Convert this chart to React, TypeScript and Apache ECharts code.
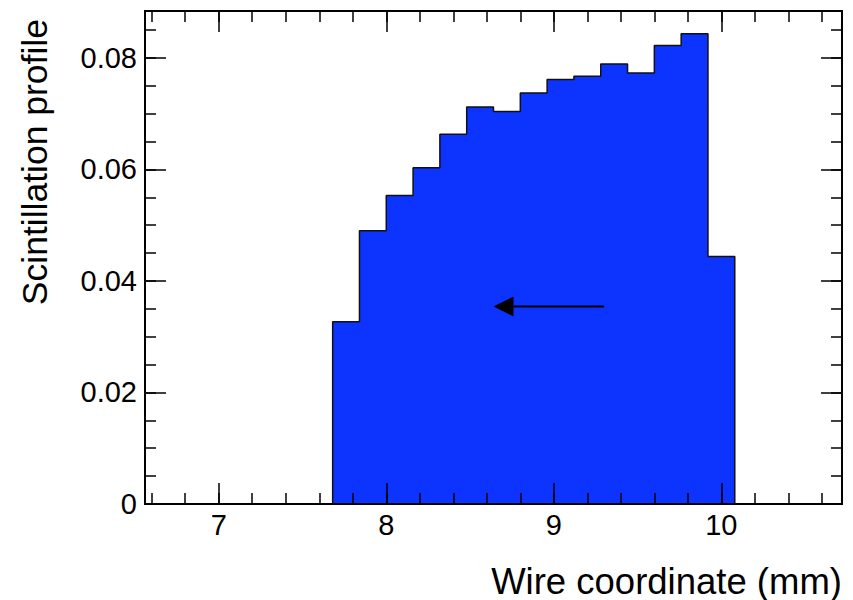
import React, { useEffect, useRef } from 'react';
import * as echarts from 'echarts';

// ---- data ----
const X_MIN = 6.56;
const X_MAX = 10.72;
const Y_MIN = 0;
const Y_MAX = 0.0884;
const BIN_START = 7.68;
const BIN_WIDTH = 0.16;
const binValues = [
  0.0327, 0.0490, 0.0553, 0.0603, 0.0663, 0.0712, 0.0704, 0.0737,
  0.0761, 0.0767, 0.0789, 0.0773, 0.0822, 0.0843, 0.0444,
];
const arrowFrom = [9.3, 0.0354];
const arrowTo = [8.64, 0.0354];
const xTitle = 'Wire coordinate (mm)';
const yTitle = 'Scintillation profile';

const FONT = "'Liberation Sans', Arial, Helvetica, sans-serif";
const BLUE = '#0d33ff';

function isMultiple(v: number, step: number) {
  const r = v / step;
  return Math.abs(r - Math.round(r)) < 1e-6;
}

function xAxisDef(position: 'bottom' | 'top', major: boolean, labels: boolean) {
  return {
    type: 'value',
    min: X_MIN,
    max: X_MAX,
    position,
    splitNumber: major ? 4 : 20,
    z: 6,
    axisLine: { show: true, onZero: false, lineStyle: { color: '#000', width: 2 } },
    axisTick: { show: true, inside: true, length: major ? 21 : 11, lineStyle: { color: '#000', width: 1.5 } },
    axisLabel: {
      show: labels,
      margin: 6,
      color: '#000',
      fontFamily: FONT,
      fontSize: 29,
      showMinLabel: false,
      showMaxLabel: false,
      formatter: (v: number) => (isMultiple(v, 1) ? String(Math.round(v)) : ''),
    },
    splitLine: { show: false },
  };
}

function yAxisDef(position: 'left' | 'right', major: boolean, labels: boolean) {
  return {
    type: 'value',
    min: Y_MIN,
    max: Y_MAX,
    position,
    interval: major ? 0.02 : 0.005,
    z: 6,
    axisLine: { show: true, onZero: false, lineStyle: { color: '#000', width: 2 } },
    axisTick: { show: true, inside: true, length: major ? 21 : 11, lineStyle: { color: '#000', width: 1.5 } },
    axisLabel: {
      show: labels,
      margin: 8,
      color: '#000',
      fontFamily: FONT,
      fontSize: 29,
      showMaxLabel: false,
      formatter: (v: number) => {
        if (!isMultiple(v, 0.02)) return '';
        return Math.abs(v) < 1e-9 ? '0' : v.toFixed(2);
      },
    },
    splitLine: { show: false },
  };
}

export default function App() {
  const ref = useRef<HTMLDivElement>(null);

  useEffect(() => {
    if (!ref.current) return;
    const chart = echarts.init(ref.current, null, { renderer: 'svg' });

    // histogram outline points built from bin edges and values
    const histPoints: number[][] = [[BIN_START, 0]];
    binValues.forEach((v, i) => {
      histPoints.push([BIN_START + i * BIN_WIDTH, v]);
      histPoints.push([BIN_START + (i + 1) * BIN_WIDTH, v]);
    });
    histPoints.push([BIN_START + binValues.length * BIN_WIDTH, 0]);

    chart.setOption({
      animation: false,
      backgroundColor: '#fff',
      grid: { left: 145, top: 11, right: 11, bottom: 96, containLabel: false },
      xAxis: [
        xAxisDef('bottom', true, true),
        xAxisDef('bottom', false, false),
        xAxisDef('top', true, false),
        xAxisDef('top', false, false),
      ],
      yAxis: [
        yAxisDef('left', true, true),
        yAxisDef('left', false, false),
        yAxisDef('right', true, false),
        yAxisDef('right', false, false),
      ],
      series: [
        {
          type: 'line',
          xAxisIndex: 0,
          yAxisIndex: 0,
          data: histPoints,
          symbol: 'none',
          lineStyle: { color: '#111', width: 1.5 },
          areaStyle: { color: BLUE, opacity: 1 },
          z: 2,
        },
        {
          type: 'custom',
          xAxisIndex: 0,
          yAxisIndex: 0,
          data: [[arrowFrom[0], arrowFrom[1], arrowTo[0], arrowTo[1]]],
          encode: { x: [0, 2], y: [1, 3] },
          z: 4,
          renderItem: (_params: any, api: any) => {
            const a = api.coord([api.value(0), api.value(1)]);
            const b = api.coord([api.value(2), api.value(3)]);
            const dx = b[0] - a[0];
            const dy = b[1] - a[1];
            const len = Math.hypot(dx, dy) || 1;
            const ux = dx / len;
            const uy = dy / len;
            const headLen = 20;
            const headHalf = 10;
            const base = [b[0] - ux * headLen, b[1] - uy * headLen];
            return {
              type: 'group',
              children: [
                {
                  type: 'line',
                  shape: { x1: a[0], y1: a[1], x2: base[0], y2: base[1] },
                  style: { stroke: '#000', lineWidth: 2 },
                },
                {
                  type: 'polygon',
                  shape: {
                    points: [
                      [b[0], b[1]],
                      [base[0] - uy * headHalf, base[1] + ux * headHalf],
                      [base[0] + uy * headHalf, base[1] - ux * headHalf],
                    ],
                  },
                  style: { fill: '#000' },
                },
              ],
            };
          },
        },
      ],
      graphic: [
        {
          type: 'text',
          x: 842,
          y: 581,
          style: {
            text: xTitle,
            fontFamily: FONT,
            fontSize: 36.5,
            fill: '#000',
            align: 'right',
            verticalAlign: 'middle',
          },
        },
        {
          type: 'text',
          x: 35,
          y: 19,
          rotation: Math.PI / 2,
          style: {
            text: yTitle,
            fontFamily: FONT,
            fontSize: 35.5,
            fill: '#000',
            align: 'right',
            verticalAlign: 'middle',
          },
        },
      ],
    });

    return () => chart.dispose();
  }, []);

  return (
    <div
      ref={ref}
      style={{ position: 'fixed', left: 0, top: 0, width: 853, height: 600 }}
    />
  );
}
